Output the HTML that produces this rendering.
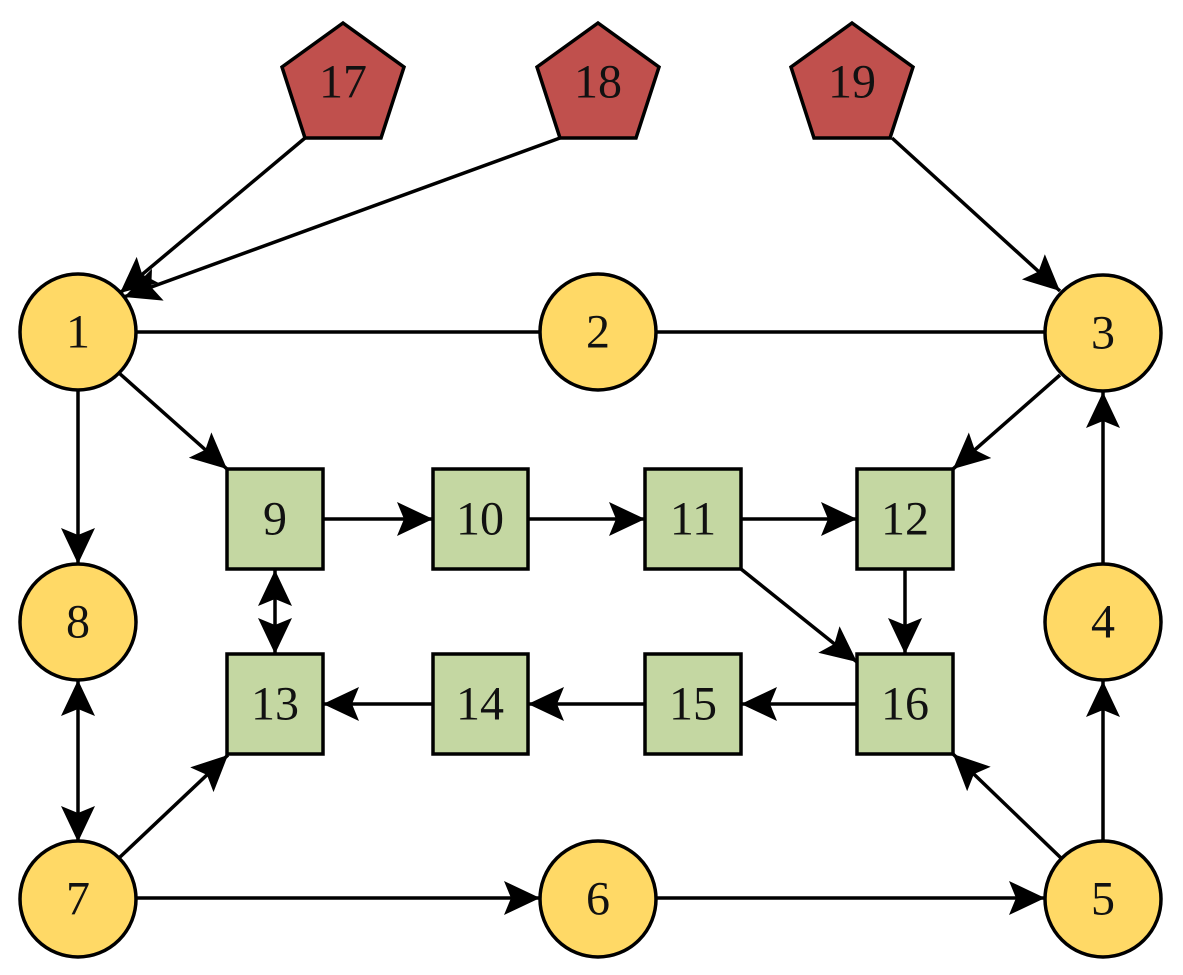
<!DOCTYPE html>
<html><head><meta charset="utf-8"><style>
html,body{margin:0;padding:0;background:#fff;}
svg{display:block;}
text{font-family:"Liberation Serif","Noto Serif CJK SC",serif;font-size:48px;text-anchor:middle;dominant-baseline:central;fill:#111;}
</style></head><body>
<svg id="g" width="1183" height="975" viewBox="0 0 1183 975" xmlns="http://www.w3.org/2000/svg">
<defs>
<marker id="a" markerUnits="userSpaceOnUse" markerWidth="40" markerHeight="36" refX="36" refY="17" orient="auto" viewBox="0 0 40 36">
<path d="M0,0 L36,17 L0,34 L7,17 Z" fill="#000"/>
</marker>
<marker id="s" markerUnits="userSpaceOnUse" markerWidth="40" markerHeight="36" refX="0" refY="17" orient="auto" viewBox="0 0 40 36">
<path d="M36,0 L0,17 L36,34 L29,17 Z" fill="#000"/>
</marker>
</defs>
<g stroke="#000" stroke-width="3.5" fill="none">
<line x1="305" y1="138" x2="120" y2="293" marker-end="url(#a)"/>
<line x1="560" y1="138" x2="124" y2="297" marker-end="url(#a)"/>
<line x1="892" y1="138" x2="1060" y2="291" marker-end="url(#a)"/>
<line x1="136" y1="332" x2="540" y2="332"/>
<line x1="656" y1="332" x2="1045" y2="332"/>
<line x1="78" y1="390" x2="78" y2="564" marker-end="url(#a)"/>
<line x1="119" y1="373" x2="227" y2="469" marker-end="url(#a)"/>
<line x1="1060" y1="375" x2="953" y2="469" marker-end="url(#a)"/>
<line x1="323" y1="519" x2="433" y2="519" marker-end="url(#a)"/>
<line x1="528" y1="519" x2="645" y2="519" marker-end="url(#a)"/>
<line x1="741" y1="519" x2="857" y2="519" marker-end="url(#a)"/>
<line x1="741" y1="569" x2="857" y2="662" marker-end="url(#a)"/>
<line x1="905" y1="569" x2="905" y2="654" marker-end="url(#a)"/>
<line x1="275" y1="570" x2="275" y2="654" marker-start="url(#s)" marker-end="url(#a)"/>
<line x1="857" y1="704" x2="741" y2="704" marker-end="url(#a)"/>
<line x1="645" y1="704" x2="528" y2="704" marker-end="url(#a)"/>
<line x1="433" y1="704" x2="323" y2="704" marker-end="url(#a)"/>
<line x1="78" y1="680" x2="78" y2="842" marker-start="url(#s)" marker-end="url(#a)"/>
<line x1="119" y1="858" x2="228" y2="755" marker-end="url(#a)"/>
<line x1="136" y1="898" x2="540" y2="898" marker-end="url(#a)"/>
<line x1="656" y1="898" x2="1045" y2="898" marker-end="url(#a)"/>
<line x1="1061" y1="858" x2="953" y2="754" marker-end="url(#a)"/>
<line x1="1103" y1="841" x2="1103" y2="681" marker-end="url(#a)"/>
<line x1="1103" y1="563" x2="1103" y2="392" marker-end="url(#a)"/>
</g>
<g stroke="#000" stroke-width="3.5" fill="#C0504D">
<polygon points="343,23 404,67 381,138 305,138 282,67"/>
<polygon points="598,23 659,67 636,138 560,138 537,67"/>
<polygon points="852,23 913,67 890,138 814,138 791,67"/>
</g>
<g stroke="#000" stroke-width="3.5" fill="#FFD966">
<circle cx="78" cy="332" r="58"/>
<circle cx="598" cy="332" r="58"/>
<circle cx="1103" cy="333" r="58"/>
<circle cx="78" cy="622" r="58"/>
<circle cx="1103" cy="622" r="58"/>
<circle cx="78" cy="899" r="58"/>
<circle cx="598" cy="899" r="58"/>
<circle cx="1103" cy="899" r="58"/>
</g>
<g stroke="#000" stroke-width="3.5" fill="#C4D7A2">
<rect x="227" y="469" width="96" height="100"/>
<rect x="433" y="469" width="95" height="100"/>
<rect x="645" y="469" width="96" height="100"/>
<rect x="857" y="469" width="96" height="100"/>
<rect x="227" y="654" width="96" height="100"/>
<rect x="433" y="654" width="95" height="100"/>
<rect x="645" y="654" width="96" height="100"/>
<rect x="857" y="654" width="96" height="100"/>
</g>
<text x="343" y="82">17</text><text x="598" y="82">18</text><text x="852" y="82">19</text>
<text x="78" y="332">1</text><text x="598" y="332">2</text><text x="1103" y="333">3</text>
<text x="78" y="622">8</text><text x="1103" y="622">4</text>
<text x="78" y="899">7</text><text x="598" y="899">6</text><text x="1103" y="899">5</text>
<text x="275" y="519">9</text><text x="480" y="519">10</text><text x="693" y="519">11</text><text x="905" y="519">12</text>
<text x="275" y="704">13</text><text x="480" y="704">14</text><text x="693" y="704">15</text><text x="905" y="704">16</text>
</svg>
</body></html>
